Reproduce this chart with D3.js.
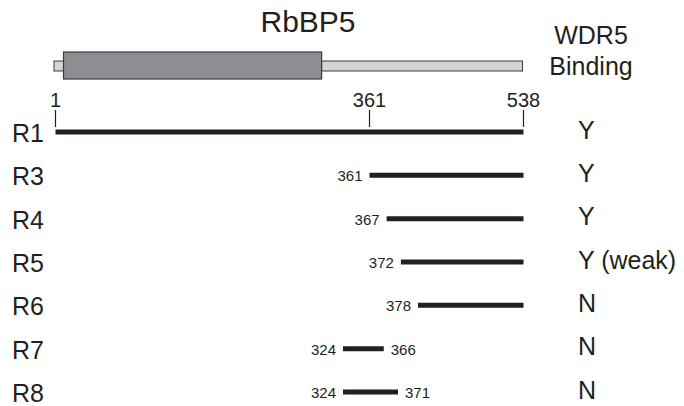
<!DOCTYPE html>
<html>
<head>
<meta charset="utf-8">
<script src="https://cdn.jsdelivr.net/npm/d3@7"></script>
<style>
  html, body { margin: 0; padding: 0; background: #fff; }
  svg { display: block; font-family: "Liberation Sans", Arial, Helvetica, sans-serif; }
</style>
</head>
<body>
<svg id="chart" width="684" height="406"></svg>
<script>
// ---- Data ----
const rows      = ["R1", "R3", "R4", "R5", "R6", "R7", "R8"];
const starts    = [1, 361, 367, 372, 378, 324, 324];
const ends      = [538, 538, 538, 538, 538, 366, 371];
const binding   = ["Y", "Y", "Y", "Y (weak)", "N", "N", "N"];
const axisTicks = [1, 361, 538];
const protein   = [1, 538];     // full-length RbBP5
const wdDomain  = [10, 300];    // shaded domain box
const title     = "RbBP5";
const colTitle  = ["WDR5", "Binding"];

// ---- Layout ----
const ink = "#231f20";
const svg = d3.select("#chart");

// schematic (not-to-scale) residue axis: 324–378 region magnified
const x = d3.scaleLinear()
  .domain([1, 324, 361, 378, 538])
  .range([55.5, 343, 369.5, 418, 523.5]);

const y = d3.scalePoint()
  .domain(rows)
  .range([132, 392]);

// Title
svg.append("text")
  .attr("x", 308).attr("y", 32)
  .attr("text-anchor", "middle")
  .attr("font-size", 30)
  .attr("fill", ink)
  .text(title);

// Column header
svg.append("g").selectAll("text")
  .data(colTitle)
  .join("text")
  .attr("x", 591)
  .attr("y", (d, i) => 43.5 + i * 31.5)
  .attr("text-anchor", "middle")
  .attr("font-size", 25)
  .attr("fill", ink)
  .text(d => d);

// Protein schematic
svg.append("rect")
  .attr("x", x(protein[0]) - 1.5)
  .attr("y", 61)
  .attr("width", x(protein[1]) - x(protein[0]) + 0.5)
  .attr("height", 10)
  .attr("fill", "#d3d4d6")
  .attr("stroke", "#3a3a3c")
  .attr("stroke-width", 1);

svg.append("rect")
  .attr("x", x(wdDomain[0]))
  .attr("y", 52)
  .attr("width", x(wdDomain[1]) - x(wdDomain[0]))
  .attr("height", 27)
  .attr("fill", "#8d8e91")
  .attr("stroke", "#3a3a3c")
  .attr("stroke-width", 1.2);

// Residue ticks
const tg = svg.append("g").selectAll("g")
  .data(axisTicks)
  .join("g")
  .attr("transform", d => `translate(${x(d)},0)`);
tg.append("line")
  .attr("y1", 110).attr("y2", 127)
  .attr("stroke", ink).attr("stroke-width", 1.2);
tg.append("text")
  .attr("y", 107)
  .attr("text-anchor", "middle")
  .attr("font-size", 20)
  .attr("fill", ink)
  .text(d => d);

// Construct rows
const data = rows.map((r, i) => ({ r, s: starts[i], e: ends[i], b: binding[i], i }));

const rg = svg.append("g").selectAll("g")
  .data(data)
  .join("g");

rg.append("line")
  .attr("x1", d => x(d.s)).attr("x2", d => x(d.e))
  .attr("y1", d => y(d.r)).attr("y2", d => y(d.r))
  .attr("stroke", ink).attr("stroke-width", 5);

// row names
rg.append("text")
  .attr("x", 12)
  .attr("y", d => y(d.r) + 10)
  .attr("font-size", 25)
  .attr("fill", ink)
  .text(d => d.r);

// binding result
rg.append("text")
  .attr("x", 578)
  .attr("y", d => y(d.r) + 6.5)
  .attr("font-size", 25)
  .attr("fill", ink)
  .text(d => d.b);

// start labels (skip full length)
rg.filter(d => d.s !== protein[0])
  .append("text")
  .attr("x", d => x(d.s) - 7)
  .attr("y", d => y(d.r) + 6)
  .attr("text-anchor", "end")
  .attr("font-size", 15)
  .attr("fill", ink)
  .text(d => d.s);

// end labels (only truncated constructs)
rg.filter(d => d.e !== protein[1])
  .append("text")
  .attr("x", d => x(d.e) + 7)
  .attr("y", d => y(d.r) + 6)
  .attr("text-anchor", "start")
  .attr("font-size", 15)
  .attr("fill", ink)
  .text(d => d.e);
</script>
</body>
</html>
